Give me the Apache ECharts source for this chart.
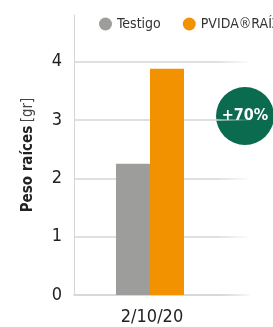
<!DOCTYPE html>
<html>
<head>
<meta charset="utf-8">
<script src="https://cdn.jsdelivr.net/npm/echarts@6/dist/echarts.min.js"></script>
<style>
  html, body { margin: 0; padding: 0; background: #fff; }
  #chart { width: 273px; height: 327px; }
</style>
</head>
<body>
<div id="chart"></div>
<script>
var categories = ['2/10/20'];
var seriesNames = ['Testigo', 'PVIDA®RAÍZ'];
var testigo = [2.25];
var pvida = [3.88];
var yTicks = [0, 1, 2, 3, 4];
var badge = '+70%';

var font = '"DejaVu Sans Condensed", sans-serif';
var chart = echarts.init(document.getElementById('chart'));

// grid lines fade out towards the right
var fade = new echarts.graphic.LinearGradient(0, 0, 1, 0, [
    { offset: 0, color: '#d5d5d5' },
    { offset: 0.8, color: '#d5d5d5' },
    { offset: 1, color: 'rgba(213,213,213,0)' }
]);

var option = {
    textStyle: { fontFamily: font },
    legend: {
        data: seriesNames,
        left: 99,
        top: 17,
        padding: 0,
        width: 400,
        icon: 'circle',
        itemWidth: 13,
        itemHeight: 13,
        itemGap: 22,
        textStyle: { fontFamily: font, fontSize: 14, color: '#333' }
    },
    grid: { left: 74, right: 23, top: 15, bottom: 32 },
    xAxis: {
        type: 'category',
        data: categories,
        axisTick: { show: false },
        axisLine: { lineStyle: { color: fade, width: 1.5 } },
        axisLabel: {
            margin: 13,
            formatter: function (v) { return '{a|' + v + '}'; },
            rich: { a: { fontFamily: font, fontSize: 18, color: '#222', padding: [0, 20, 0, 0] } }
        }
    },
    yAxis: {
        type: 'value',
        min: 0,
        max: 4.8,
        interval: 1,
        name: '{b|Peso raíces} {n|[gr]}',
        nameLocation: 'middle',
        nameGap: 38,
        nameTextStyle: {
            rich: {
                b: { fontFamily: font, fontSize: 15, fontWeight: 'bold', color: '#222' },
                n: { fontFamily: font, fontSize: 15, color: '#444' }
            }
        },
        axisLine: { show: true, lineStyle: { color: '#d5d5d5', width: 1 } },
        axisTick: { show: false },
        axisLabel: {
            showMaxLabel: false,
            margin: 12,
            fontFamily: font,
            fontSize: 18,
            color: '#222',
            formatter: function (v) { return yTicks.indexOf(v) >= 0 ? String(v) : ''; }
        },
        splitLine: {
            lineStyle: {
                width: 1.5,
                color: [fade, fade, fade, fade, fade, 'rgba(0,0,0,0)']
            }
        }
    },
    series: [
        {
            name: seriesNames[0],
            type: 'bar',
            data: testigo,
            barWidth: 34,
            barGap: 0,
            itemStyle: { color: '#9d9d9c' }
        },
        {
            name: seriesNames[1],
            type: 'bar',
            data: pvida,
            barWidth: 34,
            barGap: 0,
            itemStyle: { color: '#f39200' }
        },
        {
            name: 'spacer',
            type: 'bar',
            data: [null],
            barWidth: 24,
            barGap: 0,
            silent: true
        }
    ],
    graphic: [
        {
            type: 'group',
            left: 216,
            top: 87,
            children: [
                {
                    type: 'circle',
                    shape: { cx: 29, cy: 29, r: 29 },
                    style: { fill: '#0b6b4f' }
                },
                {
                    type: 'text',
                    x: 29,
                    y: 29,
                    style: {
                        text: badge,
                        fill: '#fff',
                        font: 'bold 16px ' + font,
                        textAlign: 'center',
                        textVerticalAlign: 'middle'
                    }
                }
            ]
        }
    ]
};
chart.setOption(option);

window.onresize = chart.resize;
</script>
</body>
</html>
